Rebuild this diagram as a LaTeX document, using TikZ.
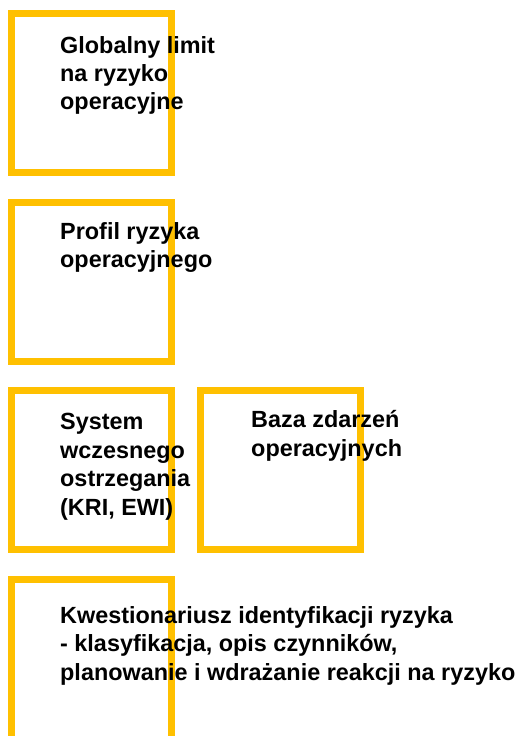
\documentclass[tikz,border=0pt]{standalone}
\usepackage{fontspec}
\setmainfont{Liberation Sans}
\definecolor{boxyellow}{HTML}{FFC000}
\tikzset{
  frame/.style={draw=boxyellow, line width=7pt, minimum width=160pt, minimum height=159pt, inner sep=0pt, outer sep=0pt, anchor=north west},
  label/.style={anchor=base west, inner sep=0pt, align=left, font=\bfseries\fontsize{23.4}{28.4}\selectfont, text=black}
}
\begin{document}
\begin{tikzpicture}[x=1pt,y=-1pt]
\useasboundingbox (0,0) rectangle (519,736);
\clip (0,0) rectangle (519,736);
\node[frame] (b1) at (11.5,13.5) {};
\node[frame] (b2) at (11.5,202.5) {};
\node[frame] (b3) at (11.5,390.5) {};
\node[frame] (b4) at (200.5,390.5) {};
\node[frame, minimum height=200pt] (b5) at (11.5,579.5) {};
\node[label] (t1) at (60,109.8) {Globalny limit\\na ryzyko\\operacyjne};
\node[label] (t2) at (60,267.5) {Profil ryzyka\\operacyjnego};
\node[label] (t3) at (60,515) {System\\wczesnego\\ostrzegania\\(KRI, EWI)};
\node[label] (t4) at (251,456) {Baza zdarzeń\\operacyjnych};
\node[label] (t5) at (60,680) {Kwestionariusz identyfikacji ryzyka\\- klasyfikacja, opis czynników,\\planowanie i wdrażanie reakcji na ryzyko};
\end{tikzpicture}
\end{document}
